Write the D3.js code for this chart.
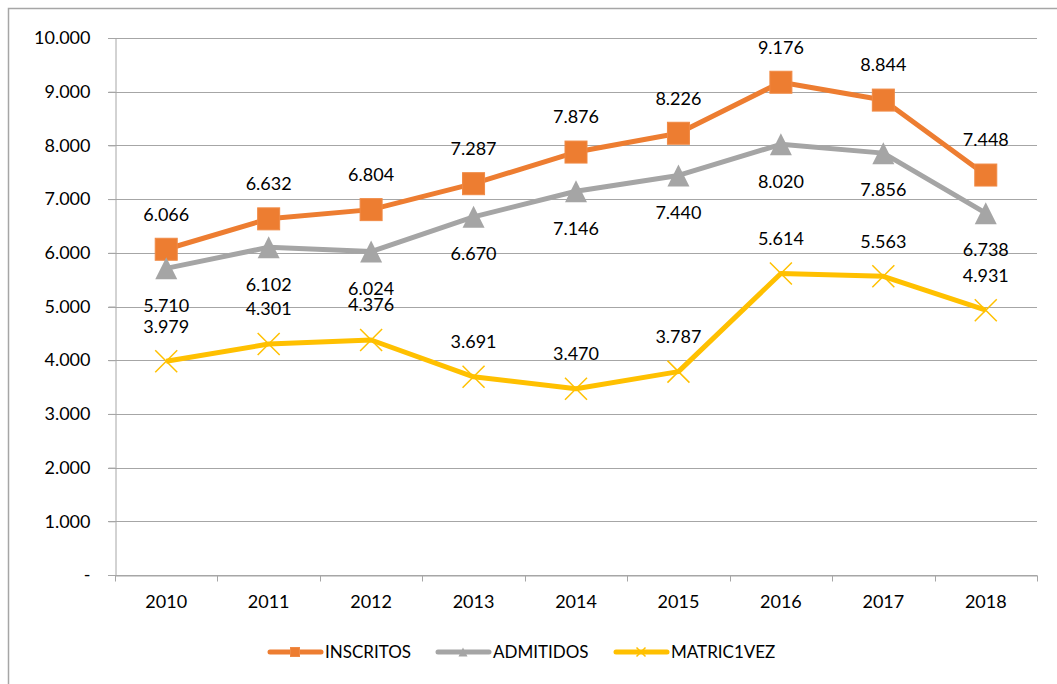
<!DOCTYPE html>
<html>
<head>
<meta charset="utf-8">
<script src="https://cdn.jsdelivr.net/npm/d3@7"></script>
<style>
  body { margin: 0; background: #fff; }
  svg text { font-family: Lato, "Open Sans", sans-serif; fill: #000; }
</style>
</head>
<body>
<svg id="chart" width="1057" height="684"></svg>
<script>
var years = ["2010", "2011", "2012", "2013", "2014", "2015", "2016", "2017", "2018"];
var inscritos = [6066, 6632, 6804, 7287, 7876, 8226, 9176, 8844, 7448];
var admitidos = [5710, 6102, 6024, 6670, 7146, 7440, 8020, 7856, 6738];
var matric1vez = [3979, 4301, 4376, 3691, 3470, 3787, 5614, 5563, 4931];
var yTicks = [0, 1000, 2000, 3000, 4000, 5000, 6000, 7000, 8000, 9000, 10000];

var series = [
    { name: "INSCRITOS", values: inscritos, color: "#ED7D31", marker: "square", labelPos: "above" },
    { name: "ADMITIDOS", values: admitidos, color: "#A5A5A5", marker: "triangle", labelPos: "below" },
    { name: "MATRIC1VEZ", values: matric1vez, color: "#FFC000", marker: "cross", labelPos: "above" }
];

var svg = d3.select("#chart");
var plotLeft = 115, plotRight = 1037, plotTop = 38, plotBottom = 575;

// outer chart border (right/bottom edges run off the picture)
svg.append("rect")
    .attr("x", 8.5).attr("y", 8.5)
    .attr("width", 1100).attr("height", 700)
    .attr("fill", "none")
    .attr("stroke", "#A6A6A6")
    .attr("stroke-width", 1.5);

var x = d3.scaleBand().domain(years).range([plotLeft, plotRight]);
var y = d3.scaleLinear().domain([0, 10000]).range([plotBottom, plotTop]);

var locale = d3.formatLocale({ decimal: ",", thousands: ".", grouping: [3], currency: ["", ""] });
var fmt = locale.format(",d");

var g = svg.append("g");

// gridlines
g.append("g")
    .selectAll("line")
    .data(yTicks)
    .enter().append("line")
    .attr("x1", plotLeft - 7).attr("x2", plotRight)
    .attr("y1", d => Math.round(y(d)) + 0.5)
    .attr("y2", d => Math.round(y(d)) + 0.5)
    .attr("stroke", "#A6A6A6")
    .attr("stroke-width", 1);

// y axis
var yAxis = g.append("g")
    .attr("transform", "translate(" + (plotLeft + 0.5) + ",0)")
    .call(d3.axisLeft(y).tickValues(yTicks).tickSize(7).tickPadding(18)
        .tickFormat(d => d === 0 ? "-" : fmt(d)));
yAxis.selectAll("text").style("font-size", "18px");

// x axis
var xTickPos = years.map((d, i) => plotLeft + i * x.step()).concat([plotRight]);
var xAxis = g.append("g")
    .attr("transform", "translate(0," + (plotBottom + 0.5) + ")")
    .call(d3.axisBottom(x).tickSize(0).tickPadding(20));
xAxis.selectAll("text").style("font-size", "18px");
xAxis.selectAll(".tick line").remove();
xAxis.selectAll(".tickb")
    .data(xTickPos)
    .enter().append("line")
    .attr("x1", d => Math.round(d) + 0.5).attr("x2", d => Math.round(d) + 0.5)
    .attr("y1", 0).attr("y2", 6)
    .attr("stroke", "#A6A6A6");

[yAxis, xAxis].forEach(a => {
    a.select(".domain").attr("stroke", "#A6A6A6");
    a.selectAll(".tick line").attr("stroke", "#A6A6A6");
});

function cx(i) { return x(years[i]) + x.bandwidth() / 2; }

var lineDraw = d3.line()
    .x((d, i) => cx(i))
    .y(d => y(d));

function drawMarker(sel, type, color, size) {
    var h = size / 2;
    if (type === "square") {
        sel.append("rect")
            .attr("x", -h).attr("y", -h)
            .attr("width", size).attr("height", size)
            .attr("fill", color)
            .attr("stroke", "#F08A45")
            .attr("stroke-width", 1);
    } else if (type === "triangle") {
        sel.append("path")
            .attr("d", "M0," + (-h) + "L" + h + "," + h + "L" + (-h) + "," + h + "Z")
            .attr("fill", color);
    } else {
        sel.append("path")
            .attr("d", "M" + (-h) + "," + (-h) + "L" + h + "," + h + "M" + h + "," + (-h) + "L" + (-h) + "," + h)
            .attr("stroke", color)
            .attr("stroke-width", 1.5)
            .attr("fill", "none");
    }
}

series.forEach(function(s) {
    var sg = g.append("g").attr("class", "series");
    sg.append("path")
        .attr("d", lineDraw(s.values))
        .attr("fill", "none")
        .attr("stroke", s.color)
        .attr("stroke-width", 5)
        .attr("stroke-linejoin", "round");

    s.values.forEach(function(v, i) {
        var m = sg.append("g").attr("transform", "translate(" + cx(i) + "," + y(v) + ")");
        drawMarker(m, s.marker, s.color, 22);
    });
});

// data labels
series.forEach(function(s) {
    g.append("g")
        .selectAll("text")
        .data(s.values)
        .enter().append("text")
        .attr("x", (d, i) => cx(i))
        .attr("y", d => y(d) + (s.labelPos === "above" ? -35 : 37))
        .attr("dy", "0.35em")
        .attr("text-anchor", "middle")
        .style("font-size", "18px")
        .text(d => fmt(d));
});

// legend
var legendX = [268, 436, 614];
var legend = svg.append("g")
    .selectAll("g")
    .data(series)
    .enter().append("g")
    .attr("transform", (d, i) => "translate(" + legendX[i] + ",652)");

legend.append("line")
    .attr("x1", 2).attr("x2", 53)
    .attr("stroke", d => d.color)
    .attr("stroke-width", 5)
    .attr("stroke-linecap", "round");

legend.each(function(d) {
    var m = d3.select(this).append("g").attr("transform", "translate(27,0)");
    drawMarker(m, d.marker, d.color, 9);
});

legend.append("text")
    .attr("x", 57)
    .attr("dy", "0.35em")
    .style("font-size", "17px")
    .text(d => d.name);
</script>
</body>
</html>
